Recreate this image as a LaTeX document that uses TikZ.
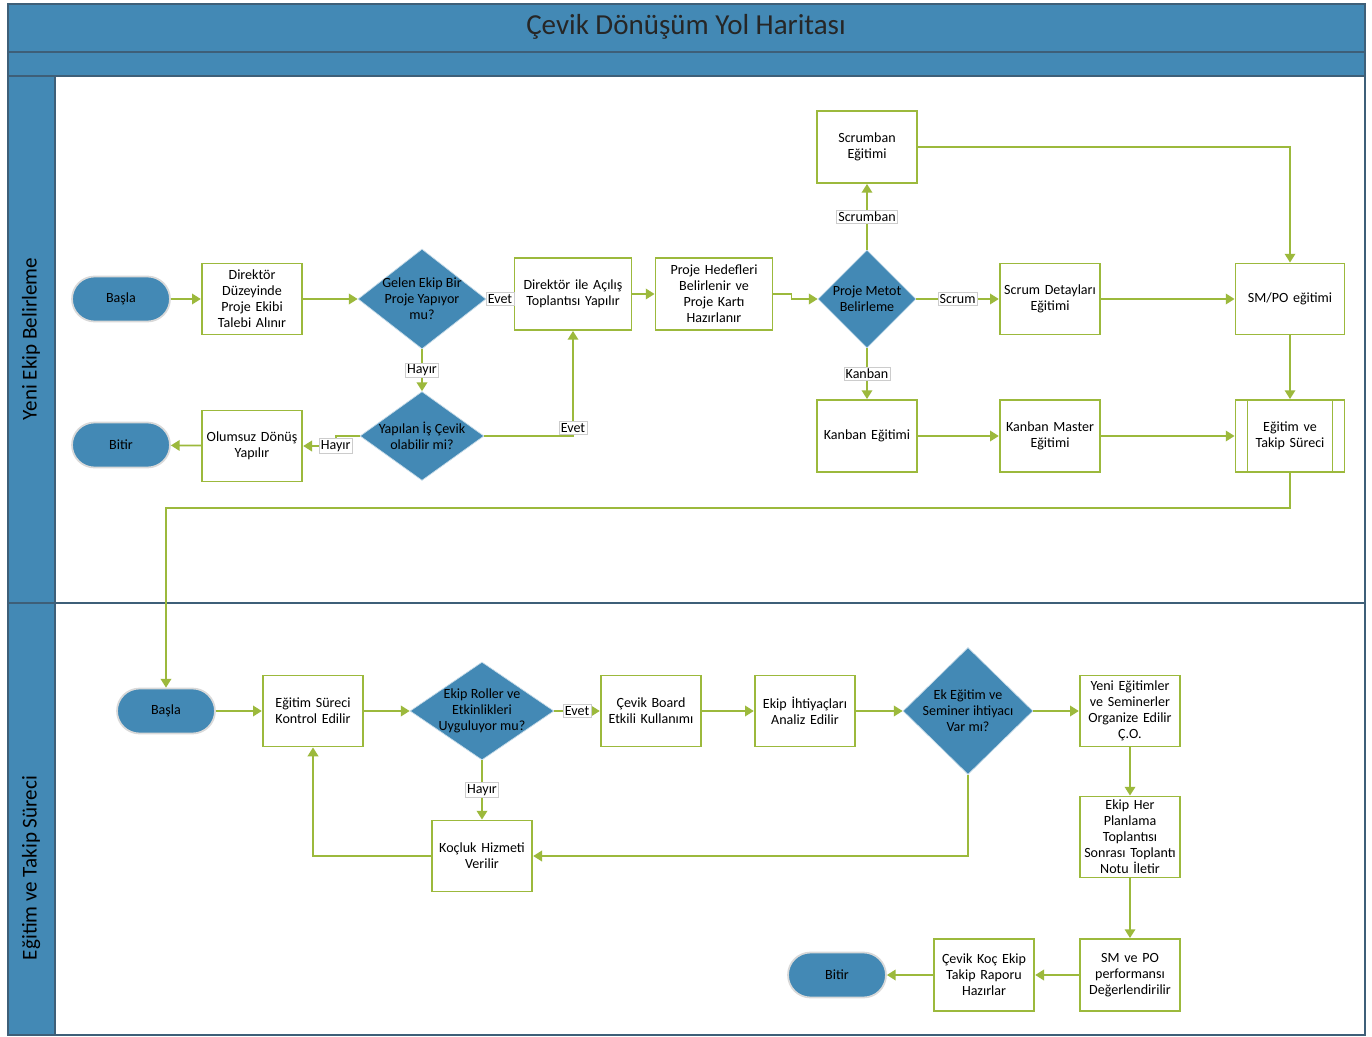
\documentclass[tikz,border=0pt]{standalone}
\usepackage{fontspec}
\setmainfont{Carlito}
\usetikzlibrary{shapes.geometric,arrows.meta}
\definecolor{laneblue}{HTML}{4389B5}
\definecolor{lineclr}{HTML}{9CB93C}
\definecolor{frameclr}{HTML}{3E5F78}

\begin{document}
\begin{tikzpicture}[x=0.02cm,y=-0.02cm,
    txt/.style={font=\fontsize{8}{9.1}\selectfont, align=center},
    box/.style={txt, draw=lineclr, line width=1.1pt, fill=white, minimum width=2cm, minimum height=1.42cm, text width=1.94cm, inner sep=1pt},
    term/.style={txt, fill=laneblue, draw=black!15, line width=1pt, rounded corners=0.45cm, minimum width=1.96cm, minimum height=0.9cm},
    decision/.style={diamond, fill=laneblue, draw=white!70!laneblue, inner sep=0pt},
    flow/.style={draw=lineclr, line width=1pt, -{Triangle[width=6pt,length=5pt]}},
    lbl/.style={txt, fill=white, draw=black!20, line width=0.4pt, inner sep=1pt}]

    \useasboundingbox (0,0) rectangle (1372,1037);
    \fill[white] (0,0) rectangle (1372,1037);

    % lanes
    \fill[laneblue] (8,4) rectangle (1365,76);
    \fill[laneblue] (8,76) rectangle (55,1035);
    \draw[frameclr, line width=1pt] (8,4) rectangle (1365,1035);
    \draw[frameclr, line width=1pt] (8,52) -- (1365,52);
    \draw[frameclr, line width=1pt] (8,76) -- (1365,76);
    \draw[frameclr, line width=1pt] (55,76) -- (55,1035);
    \draw[frameclr, line width=1pt] (8,603) -- (1365,603);

    \node (title) at (686,27) [font=\fontsize{16.5}{19}\selectfont, text=black!85] {Çevik Dönüşüm Yol Haritası};
    \node (lane1) at (31,339) [rotate=90, font=\fontsize{12}{14}\selectfont] {Yeni Ekip Belirleme};
    \node (lane2) at (31,868) [rotate=90, font=\fontsize{12}{14}\selectfont] {Eğitim ve Takip Süreci};

    % Yeni Ekip Belirleme
    \node (basla1) at (121,299) [term] {Başla};
    \node (direktor) at (252,299) [box] {Direktör\\Düzeyinde\\Proje Ekibi\\Talebi Alınır};
    \node (gelen) at (422,299) [decision, minimum width=2.56cm, minimum height=2cm,
        label={[txt]center:{Gelen Ekip Bir\\Proje Yapıyor\\mu?}}] {};
    \node (acilis) at (573,294) [box, minimum width=2.34cm, minimum height=1.44cm, text width=2.24cm] {Direktör ile Açılış\\Toplantısı Yapılır};
    \node (hedef) at (714,294) [box, minimum width=2.34cm, minimum height=1.44cm, text width=2.24cm] {Proje Hedefleri\\Belirlenir ve\\Proje Kartı\\Hazırlanır};
    \node (metot) at (867,299) [decision, minimum width=1.96cm, minimum height=1.96cm,
        label={[txt]center:{Proje Metot\\Belirleme}}] {};
    \node (scrumban) at (867,147) [box, minimum height=1.44cm] {Scrumban\\Eğitimi};
    \node (scrumdet) at (1050,299) [box] {Scrum Detayları\\Eğitimi};
    \node (smpo) at (1290,299) [box, minimum width=2.18cm, text width=2.08cm] {SM/PO eğitimi};
    \node (kanban) at (867,436) [box, minimum height=1.44cm] {Kanban Eğitimi};
    \node (kmaster) at (1050,436) [box, minimum height=1.44cm] {Kanban Master\\Eğitimi};
    \node (takip) at (1290,436) [box, minimum width=2.18cm, minimum height=1.44cm, text width=1.7cm] {Eğitim ve\\Takip Süreci};
    \draw[lineclr, line width=1pt] ([xshift=0.26cm]takip.north west) -- ([xshift=0.26cm]takip.south west);
    \draw[lineclr, line width=1pt] ([xshift=-0.26cm]takip.north east) -- ([xshift=-0.26cm]takip.south east);
    \node (yapilan) at (422,436) [decision, minimum width=2.48cm, minimum height=1.78cm,
        label={[txt]center:{Yapılan İş Çevik\\olabilir mi?}}] {};
    \node (olumsuz) at (252,446) [box] {Olumsuz Dönüş\\Yapılır};
    \node (bitir1) at (121,445) [term] {Bitir};

    \draw[flow] (basla1) -- (direktor);
    \draw[flow] (direktor) -- (gelen);
    \draw[flow] (gelen.east) -- (gelen.east -| acilis.west) node[lbl, midway] {Evet};
    \draw[flow] (gelen) -- (yapilan) node[lbl, midway] {Hayır};
    \draw[flow] (yapilan.west) -- ++(-24,0) |- (olumsuz.east) node[lbl, pos=0.5] {Hayır};
    \draw[flow] (yapilan.east) -| (acilis.south) node[lbl, pos=0.54] {Evet};
    \draw[flow] (olumsuz) -- (bitir1);
    \draw[flow] (acilis) -- (hedef);
    \draw[flow] (hedef.east) -- ++(18,0) |- (metot.west);
    \draw[flow] (metot) -- (scrumban) node[lbl, midway] {Scrumban};
    \draw[flow] (metot) -- (scrumdet) node[lbl, midway] {Scrum};
    \draw[flow] (metot) -- (kanban) node[lbl, midway] {Kanban};
    \draw[flow] (scrumban.east) -| (smpo.north);
    \draw[flow] (scrumdet) -- (smpo);
    \draw[flow] (smpo) -- (takip);
    \draw[flow] (kanban) -- (kmaster);
    \draw[flow] (kmaster) -- (takip);

    % Eğitim ve Takip Süreci
    \node (basla2) at (166,711) [term] {Başla};
    \node (sureci) at (313,711) [box] {Eğitim Süreci\\Kontrol Edilir};
    \node (roller) at (482,711) [decision, minimum width=2.88cm, minimum height=1.96cm,
        label={[txt]center:{Ekip Roller ve\\Etkinlikleri\\Uyguluyor mu?}}] {};
    \node (board) at (651,711) [box] {Çevik Board\\Etkili Kullanımı};
    \node (ihtiyac) at (805,711) [box] {Ekip İhtiyaçları\\Analiz Edilir};
    \node (ek) at (968,711) [decision, minimum width=2.6cm, minimum height=2.54cm,
        label={[txt]center:{Ek Eğitim ve\\Seminer ihtiyacı\\Var mı?}}] {};
    \node (yeni) at (1130,711) [box] {Yeni Eğitimler\\ve Seminerler\\Organize Edilir\\Ç.O.};
    \node (her) at (1130,837) [box, minimum height=1.62cm] {Ekip Her\\Planlama\\Toplantısı\\Sonrası Toplantı\\Notu İletir};
    \node (smpo2) at (1130,975) [box, minimum height=1.44cm] {SM ve PO\\performansı\\Değerlendirilir};
    \node (koc) at (984,975) [box, minimum height=1.44cm] {Çevik Koç Ekip\\Takip Raporu\\Hazırlar};
    \node (bitir2) at (837,975) [term] {Bitir};
    \node (kocluk) at (482,856) [box] {Koçluk Hizmeti\\Verilir};

    \draw[flow] (takip.south) -- ++(0,35) -| (basla2.north);
    \draw[flow] (basla2) -- (sureci);
    \draw[flow] (sureci) -- (roller);
    \draw[flow] (roller) -- (board) node[lbl, midway] {Evet};
    \draw[flow] (roller) -- (kocluk) node[lbl, midway] {Hayır};
    \draw[flow] (kocluk.west) -| (sureci.south);
    \draw[flow] (board) -- (ihtiyac);
    \draw[flow] (ihtiyac) -- (ek);
    \draw[flow] (ek) -- (yeni);
    \draw[flow] (ek.south) |- (kocluk.east);
    \draw[flow] (yeni) -- (her);
    \draw[flow] (her) -- (smpo2);
    \draw[flow] (smpo2) -- (koc);
    \draw[flow] (koc) -- (bitir2);
\end{tikzpicture}
\end{document}
